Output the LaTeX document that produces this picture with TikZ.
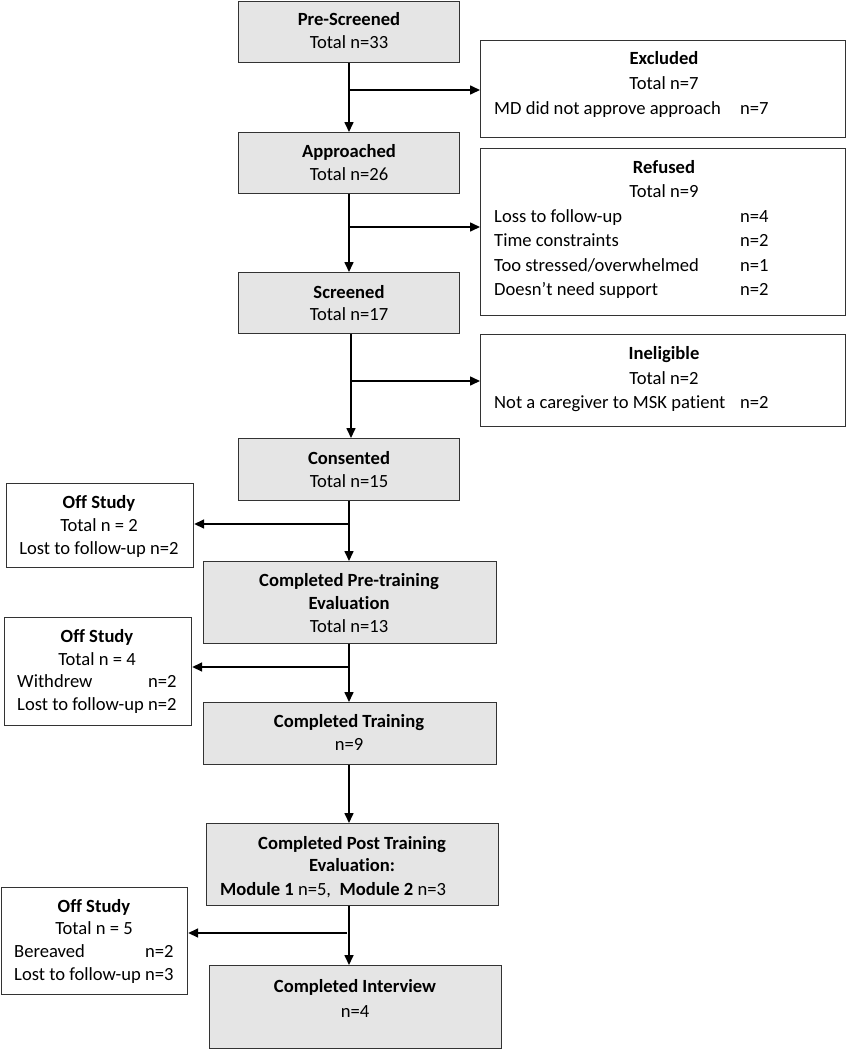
\documentclass[tikz,border=0pt]{standalone}
\usepackage{fontspec}
\setmainfont{Carlito}[Ligatures={NoCommon}]
\usetikzlibrary{arrows.meta}
\begin{document}
\begin{tikzpicture}[x=1pt,y=-1pt,
  box/.style={draw=black!80, line width=1.2pt, fill=gray!20, inner sep=0pt, anchor=north west},
  wbox/.style={draw=black!80, line width=1.2pt, fill=white, inner sep=0pt, anchor=north west},
  txt/.style={inner sep=0pt, anchor=base, font=\fontsize{18.6}{22}\selectfont},
  ltxt/.style={txt, anchor=base west},
  arr/.style={line width=1.6pt, -{Triangle[length=10pt,width=9pt]}},
  ln/.style={line width=1.6pt}]
\useasboundingbox (0,0) rectangle (846,1050);
% boxes
\node[box, minimum width=221pt, minimum height=61pt] (ps) at (238,1) {};
\node[wbox, minimum width=365pt, minimum height=97pt] (ex) at (480,40) {};
\node[box, minimum width=221pt, minimum height=61pt] (ap) at (238,132) {};
\node[wbox, minimum width=365pt, minimum height=167pt] (rf) at (480,148) {};
\node[box, minimum width=221pt, minimum height=61pt] (sc) at (238,272) {};
\node[wbox, minimum width=365pt, minimum height=92pt] (ie) at (480,334) {};
\node[box, minimum width=221pt, minimum height=62pt] (co) at (238,438) {};
\node[wbox, minimum width=187pt, minimum height=84pt] (os1) at (6,483) {};
\node[box, minimum width=293pt, minimum height=82pt] (pt) at (203,561) {};
\node[wbox, minimum width=187pt, minimum height=108pt] (os2) at (4,617) {};
\node[box, minimum width=293pt, minimum height=62pt] (tr) at (203,702) {};
\node[box, minimum width=292pt, minimum height=82pt] (po) at (206,823) {};
\node[wbox, minimum width=186pt, minimum height=107pt] (os3) at (1,887) {};
\node[box, minimum width=292pt, minimum height=83pt] (iv) at (209,965) {};
% branch points
\coordinate (b1) at (349,90);
\coordinate (b2) at (349,227);
\coordinate (b3) at (351,381);
\coordinate (b4) at (349,524);
\coordinate (b5) at (349,667);
\coordinate (b6) at (349,933);
\coordinate (b7) at (347,933);
% connectors
\draw[arr] (ps.south -| b1) -- (ap.north -| b1);
\draw[arr] (b1) -- (b1 -| ex.west);
\draw[arr] (ap.south -| b2) -- (sc.north -| b2);
\draw[arr] (b2) -- (b2 -| rf.west);
\draw[arr] (sc.south -| b3) -- (co.north -| b3);
\draw[arr] (b3) -- (b3 -| ie.west);
\draw[arr] (co.south -| b4) -- (pt.north -| b4);
\draw[arr] (b4) -- (b4 -| os1.east);
\draw[arr] (pt.south -| b5) -- (tr.north -| b5);
\draw[arr] (b5) -- (b5 -| os2.east);
\draw[arr] (tr.south -| b5) -- (po.north -| b5);
\draw[arr] (po.south -| b6) -- (iv.north -| b6);
\draw[arr] (b7) -- (b7 -| os3.east);
% texts
\node[txt] (t1) at (349,25) {\textbf{Pre-Screened}};
\node[txt] (t2) at (349,48) {Total n=33};
\node[txt] (t3) at (664,64) {\textbf{Excluded}};
\node[txt] (t4) at (664,89) {Total n=7};
\node[ltxt] (t5) at (494,114) {MD did not approve approach};
\node[ltxt] (t6) at (740,114) {n=7};
\node[txt] (t7) at (349,157) {\textbf{Approached}};
\node[txt] (t8) at (349,180) {Total n=26};
\node[txt] (t9) at (664,173) {\textbf{Refused}};
\node[txt] (t10) at (664,197) {Total n=9};
\node[ltxt] (t11) at (494,222) {Loss to follow-up};
\node[ltxt] (t12) at (740,222) {n=4};
\node[ltxt] (t13) at (494,246) {Time constraints};
\node[ltxt] (t14) at (740,246) {n=2};
\node[ltxt] (t15) at (494,271) {Too stressed/overwhelmed};
\node[ltxt] (t16) at (740,271) {n=1};
\node[ltxt] (t17) at (494,295) {Doesn’t need support};
\node[ltxt] (t18) at (740,295) {n=2};
\node[txt] (t19) at (349,298) {\textbf{Screened}};
\node[txt] (t20) at (349,320) {Total n=17};
\node[txt] (t21) at (664,359) {\textbf{Ineligible}};
\node[txt] (t22) at (664,384) {Total n=2};
\node[ltxt] (t23) at (494,408) {Not a caregiver to MSK patient};
\node[ltxt] (t24) at (740,408) {n=2};
\node[txt] (t25) at (349,464) {\textbf{Consented}};
\node[txt] (t26) at (349,487) {Total n=15};
\node[txt] (t27) at (99,508) {\textbf{Off Study}};
\node[txt] (t28) at (99,531) {Total n = 2};
\node[txt] (t29) at (99,554) {Lost to follow-up n=2};
\node[txt] (t30) at (349,586) {\textbf{Completed Pre-training}};
\node[txt] (t31) at (349,609) {\textbf{Evaluation}};
\node[txt] (t32) at (349,632) {Total n=13};
\node[txt] (t33) at (97,642) {\textbf{Off Study}};
\node[txt] (t34) at (97,665) {Total n = 4};
\node[ltxt] (t35) at (17,687) {Withdrew};
\node[ltxt] (t36) at (148,687) {n=2};
\node[ltxt] (t37) at (17,710) {Lost to follow-up n=2};
\node[txt] (t38) at (349,727) {\textbf{Completed Training}};
\node[txt] (t39) at (349,750) {n=9};
\node[txt] (t40) at (352,849) {\textbf{Completed Post Training}};
\node[txt] (t41) at (352,871) {\textbf{Evaluation:}};
\node[txt] (t42) at (333,895) {\textbf{Module 1} n=5,~~\textbf{Module 2} n=3};
\node[txt] (t43) at (94,912) {\textbf{Off Study}};
\node[txt] (t44) at (94,934) {Total n = 5};
\node[ltxt] (t45) at (14,957) {Bereaved};
\node[ltxt] (t46) at (145,957) {n=2};
\node[ltxt] (t47) at (14,980) {Lost to follow-up n=3};
\node[txt] (t48) at (355,992) {\textbf{Completed Interview}};
\node[txt] (t49) at (355,1017) {n=4};
\end{tikzpicture}
\end{document}
